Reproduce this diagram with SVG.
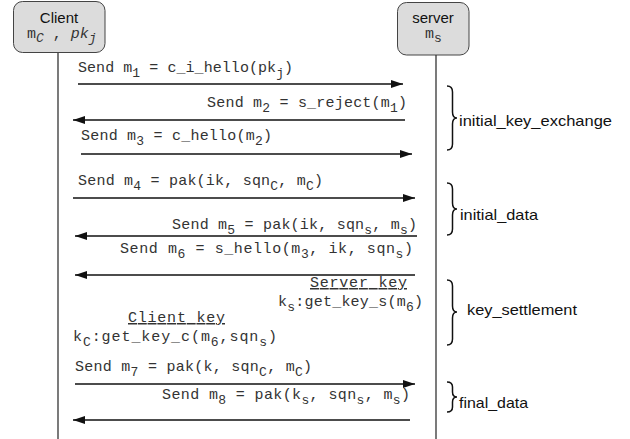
<svg xmlns="http://www.w3.org/2000/svg" width="630" height="439" viewBox="0 0 630 439">
<style>
.box{fill:#dcdcdc;stroke:#444;stroke-width:1}
.life{stroke:#333;stroke-width:1.3;fill:none}
.msg{stroke:#111;stroke-width:1.4;fill:none}
.brace{stroke:#111;stroke-width:1.5;fill:none}
.mono{font-family:"Liberation Mono","Courier New",monospace;font-size:15px;fill:#333}
.sub{font-size:13px}
.sans{font-family:"Liberation Sans",Arial,Helvetica,sans-serif;font-size:15px;fill:#111}
.ul{text-decoration:underline}
</style>
<defs>
<marker id="ah" viewBox="0 0 12 8" refX="12" refY="4" markerWidth="12" markerHeight="8" markerUnits="userSpaceOnUse" orient="auto">
<path d="M0,0 L12,4 L0,8 Z" fill="#111"/>
</marker>
</defs>

<g id="client">
<rect class="box" x="13.5" y="1.5" width="91.5" height="51" rx="9"/>
<text class="sans" x="59" y="23" text-anchor="middle">Client</text>
<text class="mono" x="27" y="38" font-size="14">m<tspan class="sub" dy="4" font-style="italic">C</tspan><tspan dy="-4"> , </tspan><tspan font-style="italic">pk</tspan><tspan class="sub" dy="4" font-style="italic">j</tspan></text>
</g>

<g id="server">
<rect class="box" x="397.5" y="2.5" width="71.5" height="52.5" rx="9"/>
<text class="sans" x="433" y="23" text-anchor="middle">server</text>
<text class="mono" x="425" y="38" font-size="14">m<tspan class="sub" dy="4">s</tspan></text>
</g>

<g id="connectors">
<line class="life" x1="58" y1="53" x2="58" y2="439"/>
<line class="life" x1="436" y1="55" x2="436" y2="439"/>
<line class="msg" x1="78" y1="84" x2="403" y2="84" marker-end="url(#ah)"/>
<line class="msg" x1="405" y1="120" x2="73" y2="120" marker-end="url(#ah)"/>
<line class="msg" x1="81" y1="154" x2="412" y2="154" marker-end="url(#ah)"/>
<line class="msg" x1="73" y1="198" x2="415" y2="198" marker-end="url(#ah)"/>
<line class="msg" x1="417" y1="236" x2="75" y2="236" marker-end="url(#ah)"/>
<line class="msg" x1="415" y1="275" x2="75" y2="275" marker-end="url(#ah)"/>
<line class="msg" x1="75" y1="384" x2="415" y2="384" marker-end="url(#ah)"/>
<line class="msg" x1="410" y1="420" x2="73" y2="420" marker-end="url(#ah)"/>
</g>

<g id="labels">
<text class="mono" x="78" y="72" textLength="215" lengthAdjust="spacing">Send m<tspan class="sub" dy="5">1</tspan><tspan dy="-5"> = c_i_hello(pk</tspan><tspan class="sub" dy="5">j</tspan><tspan dy="-5">)</tspan></text>
<text class="mono" x="207" y="107" textLength="200" lengthAdjust="spacing">Send m<tspan class="sub" dy="5">2</tspan><tspan dy="-5"> = s_reject(m</tspan><tspan class="sub" dy="5">1</tspan><tspan dy="-5">)</tspan></text>
<text class="mono" x="81" y="140" textLength="191" lengthAdjust="spacing">Send m<tspan class="sub" dy="5">3</tspan><tspan dy="-5"> = c_hello(m</tspan><tspan class="sub" dy="5">2</tspan><tspan dy="-5">)</tspan></text>
<text class="mono" x="78" y="185" textLength="245" lengthAdjust="spacing">Send m<tspan class="sub" dy="5">4</tspan><tspan dy="-5"> = pak(ik, sqn</tspan><tspan class="sub" dy="5">C</tspan><tspan dy="-5">, m</tspan><tspan class="sub" dy="5">C</tspan><tspan dy="-5">)</tspan></text>
<text class="mono" x="172" y="229" textLength="245" lengthAdjust="spacing">Send m<tspan class="sub" dy="5">5</tspan><tspan dy="-5"> = pak(ik, sqn</tspan><tspan class="sub" dy="5">s</tspan><tspan dy="-5">, m</tspan><tspan class="sub" dy="5">s</tspan><tspan dy="-5">)</tspan></text>
<text class="mono" x="120" y="253" textLength="293" lengthAdjust="spacing">Send m<tspan class="sub" dy="5">6</tspan><tspan dy="-5"> = s_hello(m</tspan><tspan class="sub" dy="5">3</tspan><tspan dy="-5">, ik, sqn</tspan><tspan class="sub" dy="5">s</tspan><tspan dy="-5">)</tspan></text>
<text class="mono ul" x="310" y="287" textLength="97" lengthAdjust="spacing">Server key</text>
<text class="mono" x="278" y="306" textLength="145" lengthAdjust="spacing">k<tspan class="sub" dy="5">s</tspan><tspan dy="-5">:get_key_s(m</tspan><tspan class="sub" dy="5">6</tspan><tspan dy="-5">)</tspan></text>
<text class="mono ul" x="128" y="322" textLength="97" lengthAdjust="spacing">Client key</text>
<text class="mono" x="73" y="341" textLength="204" lengthAdjust="spacing">k<tspan class="sub" dy="5">C</tspan><tspan dy="-5">:get_key_c(m</tspan><tspan class="sub" dy="5">6</tspan><tspan dy="-5">,sqn</tspan><tspan class="sub" dy="5">s</tspan><tspan dy="-5">)</tspan></text>
<text class="mono" x="75" y="371" textLength="237" lengthAdjust="spacing">Send m<tspan class="sub" dy="5">7</tspan><tspan dy="-5"> = pak(k, sqn</tspan><tspan class="sub" dy="5">C</tspan><tspan dy="-5">, m</tspan><tspan class="sub" dy="5">C</tspan><tspan dy="-5">)</tspan></text>
<text class="mono" x="162" y="399" textLength="248" lengthAdjust="spacing">Send m<tspan class="sub" dy="5">8</tspan><tspan dy="-5"> = pak(k</tspan><tspan class="sub" dy="5">s</tspan><tspan dy="-5">, sqn</tspan><tspan class="sub" dy="5">s</tspan><tspan dy="-5">, m</tspan><tspan class="sub" dy="5">s</tspan><tspan dy="-5">)</tspan></text>
</g>

<g id="phase-initial_key_exchange">
<path class="brace" d="M447,86 Q452.5,86 452.5,92 L452.5,112 Q452.5,118 457,118 Q452.5,118 452.5,124 L452.5,144 Q452.5,150 447,150"/>
<text class="sans" x="459" y="126" textLength="153" lengthAdjust="spacingAndGlyphs">initial_key_exchange</text>
</g>
<g id="phase-initial_data">
<path class="brace" d="M447,183 Q452.5,183 452.5,189 L452.5,203 Q452.5,209 457,209 Q452.5,209 452.5,215 L452.5,229 Q452.5,235 447,235"/>
<text class="sans" x="460" y="220" textLength="78" lengthAdjust="spacingAndGlyphs">initial_data</text>
</g>
<g id="phase-key_settlement">
<path class="brace" d="M447,280 Q452.5,280 452.5,286 L452.5,306 Q452.5,312 457,312 Q452.5,312 452.5,318 L452.5,339 Q452.5,345 447,345"/>
<text class="sans" x="467" y="315" textLength="110" lengthAdjust="spacingAndGlyphs">key_settlement</text>
</g>
<g id="phase-final_data">
<path class="brace" d="M447,382 Q452.5,382 452.5,387 L452.5,392 Q452.5,397 457,397 Q452.5,397 452.5,402 L452.5,407 Q452.5,412 447,412"/>
<text class="sans" x="459" y="408" textLength="69" lengthAdjust="spacingAndGlyphs">final_data</text>
</g>
</svg>
